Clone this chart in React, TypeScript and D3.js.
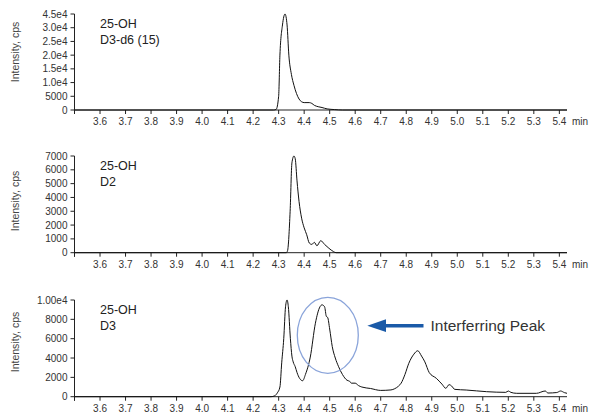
import React from 'react';
import * as d3 from 'd3';

// retention time (min) , intensity (cps)
const traceD3d6: [number, number][] = [
  [3.5, 0], [4.28, 0], [4.29, 200], [4.3, 5000], [4.305, 20000], [4.315, 31000],
  [4.325, 35000], [4.333, 31000], [4.34, 20000], [4.35, 13000], [4.36, 9000],
  [4.37, 6000], [4.38, 4000], [4.39, 3000], [4.4, 2700], [4.42, 2700], [4.43, 2400],
  [4.44, 1700], [4.455, 1200], [4.47, 900], [4.49, 400], [4.52, 150], [4.55, 0], [5.43, 0],
];

const traceD2: [number, number][] = [
  [3.5, 0], [4.33, 0], [4.335, 150], [4.345, 3000], [4.352, 6500], [4.36, 7000],
  [4.365, 6800], [4.372, 5200], [4.38, 3700], [4.39, 2500], [4.4, 1800], [4.41, 1300],
  [4.42, 700], [4.43, 600], [4.44, 750], [4.45, 500], [4.465, 870], [4.48, 600],
  [4.497, 320], [4.515, 80], [4.525, 0], [5.43, 0],
];

const traceD3: [number, number][] = [
  [3.5, 0], [4.27, 0], [4.285, 100], [4.295, 400], [4.305, 1000], [4.312, 3500],
  [4.32, 6000], [4.327, 9300], [4.333, 10000], [4.338, 9300], [4.346, 6000],
  [4.352, 4200], [4.357, 3600], [4.365, 3100], [4.372, 2500], [4.382, 1900],
  [4.394, 1650], [4.405, 2300], [4.424, 4100], [4.444, 7600], [4.462, 9300],
  [4.47, 9500], [4.48, 9300], [4.487, 8300], [4.492, 8200], [4.5, 7000], [4.51, 5200],
  [4.522, 4000], [4.535, 3100], [4.55, 2300], [4.568, 1700], [4.578, 1600],
  [4.585, 1400], [4.6, 1400], [4.613, 1150], [4.626, 1000], [4.66, 850], [4.7, 650],
  [4.74, 700], [4.755, 830], [4.77, 1100], [4.78, 1400], [4.795, 2300], [4.81, 3450],
  [4.83, 4400], [4.845, 4750], [4.86, 4200], [4.873, 3600], [4.89, 2500],
  [4.918, 1900], [4.94, 1300], [4.955, 870], [4.968, 1250], [4.978, 1100],
  [4.99, 760], [5.035, 690], [5.115, 520], [5.19, 450], [5.2, 590], [5.21, 450],
  [5.233, 350], [5.31, 350], [5.345, 590], [5.355, 380], [5.39, 430], [5.405, 590],
  [5.42, 420], [5.43, 350],
];

const timeTicks = [3.5, 3.6, 3.7, 3.8, 3.9, 4.0, 4.1, 4.2, 4.3, 4.4, 4.5, 4.6, 4.7, 4.8, 4.9, 5.0, 5.1, 5.2, 5.3, 5.4];

const ticksD3d6 = [0, 5000, 10000, 15000, 20000, 25000, 30000, 35000];
const labelsD3d6 = ['0', '5000', '1.0e4', '1.5e4', '2.0e4', '2.5e4', '3.0e4', '4.5e4'];
const ticksD2 = [0, 1000, 2000, 3000, 4000, 5000, 6000, 7000];
const labelsD2 = ['0', '1000', '2000', '3000', '4000', '5000', '6000', '7000'];
const ticksD3 = [0, 2000, 4000, 6000, 8000, 10000];
const labelsD3 = ['0', '2000', '4000', '6000', '8000', '1.00e4'];

const FONT = "'Liberation Sans', Arial, Helvetica, sans-serif";
const x = d3.scaleLinear().domain([3.5, 5.43]).range([74.5, 567]);

type PanelProps = {
  data: [number, number][];
  ticks: number[];
  labels: string[];
  top: number;
  bottom: number;
  name: string[];
  titleY: number;
};

function Panel({ data, ticks, labels, top, bottom, name, titleY }: PanelProps) {
  const y = d3.scaleLinear().domain([0, ticks[ticks.length - 1]]).range([bottom, top]);
  const line = d3.line<[number, number]>()
    .x((d) => x(d[0]))
    .y((d) => y(d[1]))
    .curve(d3.curveMonotoneX);
  const x0 = x.range()[0];
  return (
    <g>
      <text
        transform={`translate(19,${titleY}) rotate(-90)`}
        textAnchor="middle"
        fontSize={10.5}
        fill="#444"
      >Intensity, cps</text>
      {name.map((n, i) => (
        <text key={n} x={100} y={top + 14 + i * 15.5} fontSize={12.5} fill="#222">{n}</text>
      ))}
      {/* y axis */}
      <line x1={x0} x2={x0} y1={top} y2={bottom + 4} stroke="#222" />
      {ticks.map((t, i) => (
        <g key={t} transform={`translate(0,${y(t)})`}>
          <line x1={x0 - 4} x2={x0} stroke="#222" />
          <text x={x0 - 7} dy="0.35em" textAnchor="end" fontSize={10} fill="#333">{labels[i]}</text>
        </g>
      ))}
      {/* x axis */}
      <line x1={x0} x2={x.range()[1]} y1={bottom} y2={bottom} stroke="#222" />
      {timeTicks.map((t) => (
        <g key={t} transform={`translate(${x(t)},${bottom})`}>
          <line y1={0} y2={4} stroke="#222" />
          {t > 3.5 && (
            <text y={15} textAnchor="middle" fontSize={10} fill="#333">{t.toFixed(1)}</text>
          )}
        </g>
      ))}
      <text x={572} y={bottom + 15} fontSize={10} fill="#333">min</text>
      <path d={line(data) ?? ''} fill="none" stroke="#111" strokeWidth={1} />
    </g>
  );
}

export default function App() {
  return (
    <svg width={589} height={415} style={{ display: 'block', position: 'absolute', left: 0, top: 0, fontFamily: FONT }}>
      <rect width={589} height={415} fill="#fff" />
      <Panel data={traceD3d6} ticks={ticksD3d6} labels={labelsD3d6} top={14} bottom={110} name={['25-OH', 'D3-d6 (15)']} titleY={52} />
      <Panel data={traceD2} ticks={ticksD2} labels={labelsD2} top={156} bottom={252.7} name={['25-OH', 'D2']} titleY={201} />
      <Panel data={traceD3} ticks={ticksD3} labels={labelsD3} top={300} bottom={396.7} name={['25-OH', 'D3']} titleY={342} />
      {/* annotation */}
      <ellipse cx={327.8} cy={335.3} rx={30.5} ry={38} fill="none" stroke="#8aa4da" strokeWidth={1.3} />
      <line x1={383} x2={423.5} y1={325.7} y2={325.7} stroke="#1a5aa8" strokeWidth={3.5} />
      <path d="M367.3,325.7 L386,319.3 L386,332.1 Z" fill="#1a5aa8" />
      <text x={430.5} y={330.5} fontSize={15.5} fill="#333">Interferring Peak</text>
    </svg>
  );
}
